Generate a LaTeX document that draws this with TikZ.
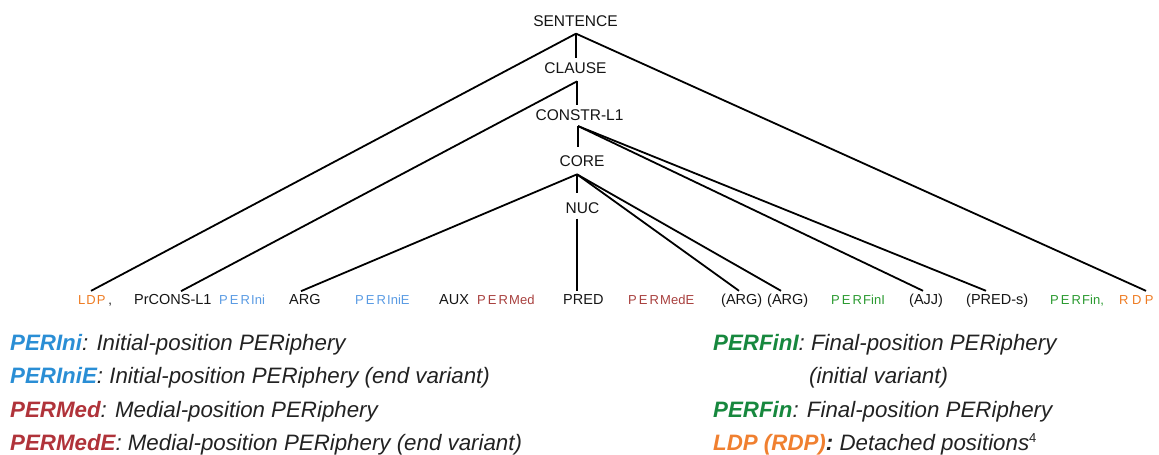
\documentclass[tikz,border=0pt]{standalone}
\usepackage{fontspec}
\setmainfont{Liberation Sans}
\definecolor{treeorange}{HTML}{EE7B22}
\definecolor{treeblue}{HTML}{5A9BE3}
\definecolor{treered}{HTML}{A8403E}
\definecolor{treegreen}{HTML}{2A9A30}
\definecolor{legblue}{HTML}{2A8ED5}
\definecolor{legred}{HTML}{B0333A}
\definecolor{leggreen}{HTML}{17883E}
\definecolor{legorange}{HTML}{F08030}
\definecolor{ink}{HTML}{151515}
\definecolor{legink}{HTML}{222222}
\newcommand\perlbl[1]{P\kern2pt E\kern2pt R\kern1.3pt #1}
\begin{document}
\begin{tikzpicture}[x=1pt,y=-1pt,
  top/.style={anchor=base,inner sep=0pt,text=ink,font=\fontsize{15.5}{18}\selectfont},
  leaf/.style={anchor=base west,inner sep=0pt,text=ink,font=\fontsize{14.5}{17}\selectfont},
  perleaf/.style={anchor=base west,inner sep=0pt,font=\fontsize{13}{15}\selectfont},
  edge/.style={line width=1.8pt,draw=black},
  leg/.style={anchor=base west,inner sep=0pt,text=legink,font=\fontsize{22.3}{26}\selectfont\itshape}]
\useasboundingbox (0,0) rectangle (1159,455);

% upper tree nodes
\node[top] (sentence) at (575.5,26.7) {SENTENCE};
\node[top] (clause) at (575.5,73.3) {CLAUSE};
\node[top] (constr) at (579.5,120) {CONSTR-L1};
\node[top] (core) at (582,166.7) {CORE};
\node[top] (nuc) at (582.5,213.3) {NUC};

% leaves
\node[perleaf,text=treeorange] (ldp) at (78,304.5) {L\kern1pt D\kern1pt P\kern3pt{\color{ink},}};
\node[leaf] (prcons) at (134,304.5) {PrCONS-L1};
\node[perleaf,text=treeblue] (perini) at (219,304.5) {\perlbl{Ini}};
\node[leaf] (arg) at (289,304.5) {ARG};
\node[perleaf,text=treeblue] (perinie) at (355,304.5) {\perlbl{IniE}};
\node[leaf] (aux) at (439,304.5) {AUX};
\node[perleaf,text=treered] (permed) at (477,304.5) {\perlbl{Med}};
\node[leaf] (pred) at (563,304.5) {PRED};
\node[perleaf,text=treered] (permede) at (628,304.5) {\perlbl{MedE}};
\node[leaf] (argA) at (721,304.5) {(ARG)};
\node[leaf] (argB) at (767,304.5) {(ARG)};
\node[perleaf,text=treegreen] (perfini) at (831,304.5) {\perlbl{FinI}};
\node[leaf] (ajj) at (909,304.5) {(AJJ)};
\node[leaf] (preds) at (966,304.5) {(PRED-s)};
\node[perleaf,text=treegreen] (perfin) at (1050,304.5) {\perlbl{Fin,}};
\node[perleaf,text=treeorange] (rdp) at (1119,304.5) {R\kern3.5pt D\kern3.5pt P};

% connectors
\draw[edge] ([shift={(0.5,6.6)}]sentence.south) -- ([shift={(0.5,-3.9)}]clause.north);
\draw[edge] ([shift={(0.5,6.6)}]sentence.south) -- ([shift={(13,-4.5)}]ldp.north west);
\draw[edge] ([shift={(0.5,6.6)}]sentence.south) -- ([shift={(27,-4.5)}]rdp.north west);
\draw[edge] ([shift={(1.5,7.7)}]clause.south) -- ([shift={(-2.5,-3.9)}]constr.north);
\draw[edge] ([shift={(1.5,7.7)}]clause.south) -- ([shift={(47,-3)}]prcons.north west);
\draw[edge] ([shift={(-1.5,5.7)}]constr.south) -- ([shift={(-4,-8.9)}]core.north);
\draw[edge] ([shift={(-1.5,5.7)}]constr.south) -- ([shift={(14,-3)}]ajj.north west);
\draw[edge] ([shift={(-1.5,5.7)}]constr.south) -- ([shift={(20,-3)}]preds.north west);
\draw[edge] ([shift={(-5,7.3)}]core.south) -- ([shift={(-5.5,-8.9)}]nuc.north);
\draw[edge] ([shift={(-5,7.3)}]core.south) -- ([shift={(12,-3)}]arg.north west);
\draw[edge] ([shift={(-5,7.3)}]core.south) -- ([shift={(18,-3)}]argA.north west);
\draw[edge] ([shift={(-5,7.3)}]core.south) -- ([shift={(14,-3)}]argB.north west);
\draw[edge] ([shift={(-5.5,5)}]nuc.south) -- ([shift={(14,-3)}]pred.north west);

% legend
\node[leg] (l1) at (10,350) {\textcolor{legblue}{\bfseries PERIni}: Initial-position PERiphery};
\node[leg] (l2) at (10,383.5) {\textcolor{legblue}{\bfseries PERIniE}: Initial-position PERiphery (end variant)};
\node[leg] (l3) at (10,417) {\textcolor{legred}{\bfseries PERMed}: Medial-position PERiphery};
\node[leg] (l4) at (10,450.5) {\textcolor{legred}{\bfseries PERMedE}: Medial-position PERiphery (end variant)};
\node[leg] (r1) at (713,350) {\textcolor{leggreen}{\bfseries PERFinI}: Final-position PERiphery};
\node[leg] (r2) at (809,383.5) {(initial variant)};
\node[leg] (r3) at (713,417) {\textcolor{leggreen}{\bfseries PERFin}: Final-position PERiphery};
\node[leg] (r4) at (713,450.5) {\textcolor{legorange}{\bfseries LDP (RDP)}\textbf{:} Detached positions\raisebox{8pt}{\fontsize{13}{13}\selectfont\upshape 4}};
\end{tikzpicture}
\end{document}
